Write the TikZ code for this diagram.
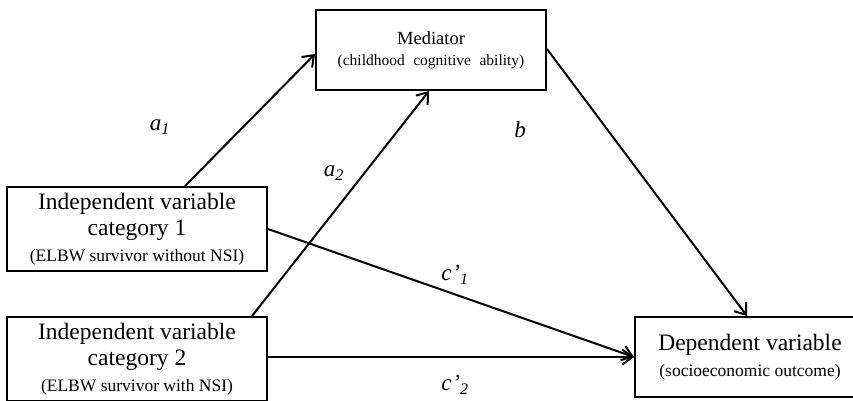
\documentclass[tikz,border=0pt]{standalone}
\usepackage{fontspec}
\setmainfont{Liberation Serif}
\usetikzlibrary{arrows.meta,calc}
\tikzset{
  box/.style={draw, line width=2pt, rectangle, align=center, inner sep=0pt},
  conn/.style={line width=2pt, -{Straight Barb[length=10pt,width=15pt,line width=2pt]}},
  lab/.style={font=\fontsize{23}{25}\selectfont\itshape, inner sep=0pt},
}
\newcommand{\bigt}{\fontsize{23.5}{26}\selectfont}
\newcommand{\smt}{\fontsize{17.5}{25}\selectfont}
\newcommand{\pr}{\kern1pt{\char"27}}
\begin{document}
\begin{tikzpicture}[x=1pt,y=-1pt]
\useasboundingbox (0,0) rectangle (853,400);
\clip (0,0) rectangle (853,400);
\fill[white] (0,0) rectangle (853,400);
\node[box, minimum width=230pt, minimum height=80pt, font=\fontsize{18.5}{21}\selectfont] (med) at (431,50)
  {Mediator\\\fontsize{15.5}{21}\selectfont (childhood\hspace{0.55em}cognitive\hspace{0.55em}ability)};
\node[box, minimum width=260pt, minimum height=84pt, font=\bigt] (iv1) at (137,229)
  {Independent variable\\category 1\\\smt (ELBW survivor without NSI)};
\node[box, minimum width=260pt, minimum height=84pt, font=\bigt] (iv2) at (137,359)
  {Independent variable\\category 2\\\smt (ELBW survivor with NSI)};
\node[box, minimum width=230pt, minimum height=80pt, font=\bigt] (dv) at (750,357)
  {Dependent variable\\\fontsize{17.5}{22}\selectfont (socioeconomic outcome)};
\draw[conn] ([xshift=179pt]iv1.north west) -- ([yshift=-45pt]med.north west);
\draw[conn] ([xshift=246pt]iv2.north west) -- ([xshift=114pt]med.south west);
\draw[conn] ([yshift=-40pt]med.north east) -- ([xshift=113pt]dv.north west);
\draw[conn] ([yshift=-43pt]iv1.north east) -- ([yshift=-41pt]dv.north west);
\draw[conn] ([yshift=-41pt]iv2.north east) -- ([yshift=-41pt]dv.north west);
\node[lab] (la1) at (160,127) {a\textsubscript{1}};
\node[lab] (la2) at (334,173) {a\textsubscript{2}};
\node[lab] (lb) at (520,130) {b};
\node[lab] (lc1) at (455,275) {c\pr\textsubscript{1}};
\node[lab] (lc2) at (455,385) {c\pr\textsubscript{2}};
\end{tikzpicture}
\end{document}
